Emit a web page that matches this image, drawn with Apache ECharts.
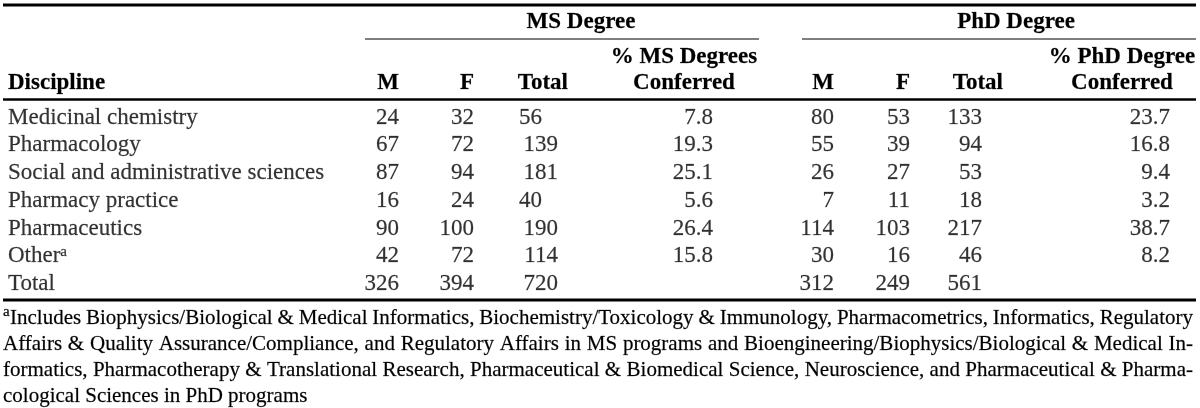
<!DOCTYPE html>
<html><head><meta charset="utf-8">
<script src="https://cdn.jsdelivr.net/npm/echarts@6/dist/echarts.min.js"></script>
<style>html,body{margin:0;padding:0;background:#fff}#c{width:1200px;height:408px}</style>
</head><body><div id="c"></div>
<script>
// ---- data ----
const disciplines = ['Medicinal chemistry','Pharmacology','Social and administrative sciences','Pharmacy practice','Pharmaceutics','Other','Total'];
const msMale   = [24,67,87,16,90,42,326];
const msFemale = [32,72,94,24,100,72,394];
const msTotal  = [56,139,181,40,190,114,720];
const msPct    = [7.8,19.3,25.1,5.6,26.4,15.8,null];
const phdMale   = [80,55,26,7,114,30,312];
const phdFemale = [53,39,27,11,103,16,249];
const phdTotal  = [133,94,53,18,217,46,561];
const phdPct    = [23.7,16.8,9.4,3.2,38.7,8.2,null];
const footnoteMarks = {'Other':'a'};
const groupTitles = ['MS Degree','PhD Degree'];
const colHeaders = ['M','F','Total'];
const pctHeaders = [['% MS Degrees','Conferred'],['% PhD Degree','Conferred']];
const footnoteLines = [
 'Includes Biophysics/Biological & Medical Informatics, Biochemistry/Toxicology & Immunology, Pharmacometrics, Informatics, Regulatory',
 'Affairs & Quality Assurance/Compliance, and Regulatory Affairs in MS programs and Bioengineering/Biophysics/Biological & Medical In-',
 'formatics, Pharmacotherapy & Translational Research, Pharmaceutical & Biomedical Science, Neuroscience, and Pharmaceutical & Pharma-',
 'cological Sciences in PhD programs'
];

// ---- layout ----
const FAM = '"Liberation Serif","Times New Roman",serif';
const INK = '#000';
const FS = 23, FN = 21;
const rowsTop = 103.6, rowH = 27.75;
const columns = [
  {data: msMale,    x: 399, align: 'right'},
  {data: msFemale,  x: 474, align: 'right'},
  {data: msTotal,   x: 558, align: 'right', shortShift: -16},
  {data: msPct,     x: 713, align: 'right', pct: true},
  {data: phdMale,   x: 834, align: 'right'},
  {data: phdFemale, x: 910, align: 'right'},
  {data: phdTotal,  x: 982, align: 'right'},
  {data: phdPct,    x: 1170, align: 'right', pct: true}
];
const STROKE = {textBorderColor: 'rgba(0,0,0,0.55)', textBorderWidth: 0.35};

const chart = echarts.init(document.getElementById('c'), null, {renderer: 'canvas'});

const series = [];
series.push({
  type: 'scatter', symbolSize: 0, silent: true, animation: false,
  data: disciplines.map(d => [8, d]),
  label: {
    show: true, position: 'inside', align: 'left', verticalAlign: 'middle',
    formatter: p => {
      const name = p.value[1];
      return footnoteMarks[name] ? '{n|' + name + '}{s|' + footnoteMarks[name] + '}' : '{n|' + name + '}';
    },
    rich: {
      n: Object.assign({fontFamily: FAM, fontSize: FS, color: INK, lineHeight: 24}, STROKE),
      s: Object.assign({fontFamily: FAM, fontSize: 15, color: INK, verticalAlign: 'top', lineHeight: 15}, STROKE)
    }
  }
});
columns.forEach(c => {
  series.push({
    type: 'scatter', symbolSize: 0, silent: true, animation: false,
    data: c.data.map((v, i) => {
      if (v == null) return null;
      const item = {value: [c.x, disciplines[i], v]};
      if (c.shortShift && v < 100) item.label = {offset: [c.shortShift, 0]};
      return item;
    }).filter(Boolean),
    label: Object.assign({
      show: true, position: 'inside', align: c.align, verticalAlign: 'middle',
      fontFamily: FAM, fontSize: FS, color: INK,
      formatter: p => c.pct ? p.value[2].toFixed(1) : String(p.value[2])
    }, STROKE)
  });
});

// graphic: rules, headers, footnote
const g = [];
function line(x1, y1, x2, y2, w) {
  g.push({type: 'line', silent: true, shape: {x1, y1, x2, y2}, style: {stroke: INK, lineWidth: w}});
}
function text(t, x, y, align, bold, size, noStroke) {
  g.push({type: 'text', silent: true, style: Object.assign({text: t, x, y, align, verticalAlign: 'middle',
    font: (bold ? 'bold ' : '') + (size || FS) + 'px ' + FAM, fill: INK}, noStroke ? {} : {stroke: 'rgba(0,0,0,0.55)', lineWidth: 0.35})});
}
line(3, 5, 1196, 5, 2.8);
line(365, 39, 759, 39, 1);
line(802, 39, 1196, 39, 1);
line(3, 99.5, 1196, 99.5, 2.4);
line(3, 300, 1196, 300, 2.8);

text(groupTitles[0], 581, 22, 'center', true);
text(groupTitles[1], 1016, 22, 'center', true);
text('Discipline', 8, 83, 'left', true);
text(colHeaders[0], 399, 83, 'right', true);
text(colHeaders[1], 474, 83, 'right', true);
text(colHeaders[2], 568, 83, 'right', true);
text(pctHeaders[0][0], 684, 57, 'center', true);
text(pctHeaders[0][1], 684, 83, 'center', true);
text(colHeaders[0], 834, 83, 'right', true);
text(colHeaders[1], 910, 83, 'right', true);
text(colHeaders[2], 1003, 83, 'right', true);
text(pctHeaders[1][0], 1122, 57, 'center', true);
text(pctHeaders[1][1], 1122, 83, 'center', true);

// footnote, justified
const ctx = document.createElement('canvas').getContext('2d');
const fnFont = FN + 'px ' + FAM;
ctx.font = fnFont;
const fnTop = 318, fnStep = 26, fnRight = 1193;
text('a', 3, fnTop - 6, 'left', false, 15);
footnoteLines.forEach((ln, li) => {
  const y = fnTop + li * fnStep;
  const x0 = li === 0 ? 10 : 3;
  const words = ln.split(' ');
  const widths = words.map(w => ctx.measureText(w).width);
  const total = widths.reduce((a, b) => a + b, 0);
  const justify = li < footnoteLines.length - 1;
  const gap = justify ? (fnRight - x0 - total) / (words.length - 1) : ctx.measureText(' ').width;
  let x = x0;
  words.forEach((w, i) => {
    text(w, x, y, 'left', false, FN);
    x += widths[i] + gap;
  });
});

chart.setOption({
  animation: false,
  backgroundColor: '#fff',
  grid: {left: 0, right: 0, top: rowsTop, bottom: 408 - (rowsTop + rowH * disciplines.length)},
  xAxis: {type: 'value', min: 0, max: 1200, show: false},
  yAxis: {type: 'category', data: disciplines, inverse: true, show: false},
  series,
  graphic: g
});
</script></body></html>
